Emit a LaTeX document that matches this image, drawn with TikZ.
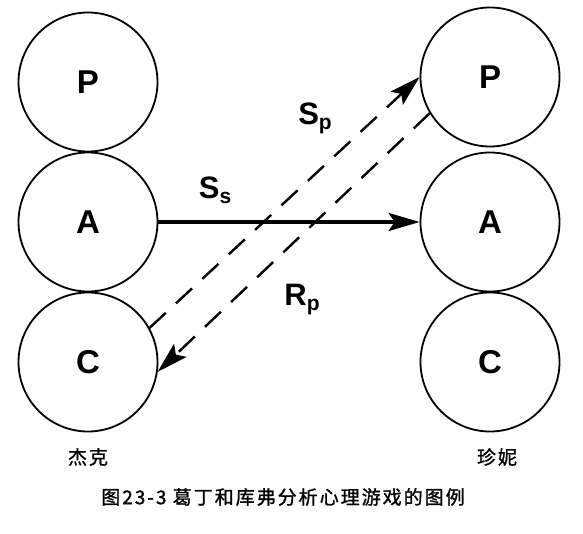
\documentclass[tikz,border=0pt]{standalone}
\usepackage{fontspec}
\setmainfont{Liberation Sans}
\newfontfamily\cjkcap[LetterSpace=10.5,FakeBold=1.2]{Noto Sans CJK SC}
\usetikzlibrary{arrows.meta}
\newcommand\lowsub[1]{\raisebox{-5pt}{\fontsize{21}{21}\selectfont #1}}
\begin{document}
\begin{tikzpicture}[x=1pt,y=-1pt,
  ego/.style={circle,draw,line width=1.8pt,minimum size=139pt,inner sep=0pt,
    font=\fontsize{33}{33}\selectfont\bfseries},
  tx/.style={font=\fontsize{31}{31}\selectfont\bfseries,inner sep=0pt},
  cjklab/.style={font=\fontsize{19}{19}\selectfont\cjkcap,inner sep=0pt},
  tip/.style={-{Stealth[length=31pt,width=18pt,inset=6pt]}},
  solidarrow/.style={tip,line width=3.3pt},
  dasharrow/.style={tip,line width=2.4pt,dash pattern=on 22pt off 14pt}]
\useasboundingbox (0,0) rectangle (583,533);
\node[ego] (lp) at (88,82) {P};
\node[ego] (la) at (88,222) {A};
\node[ego] (lc) at (88,362) {C};
\node[ego] (rp) at (490,77) {P};
\node[ego] (ra) at (490,222) {A};
\node[ego] (rc) at (490,362) {C};
\draw[solidarrow] (la.east) -- (ra.west);
\draw[dasharrow] (lc.29) -- (rp.180);
\draw[dasharrow] (rp.211) -- (lc.-8);
\node[tx] (ss) at (215,190) {S\lowsub{s}};
\node[tx] (sp) at (315,118) {S\lowsub{p}};
\node[tx] (rpl) at (302,300) {R\lowsub{p}};
\node[cjklab] (jack) at (88,457) {杰克};
\node[cjklab] (jenny) at (497,457) {珍妮};
\node[cjklab] (cap) at (283,497) {图23-3 葛丁和库弗分析心理游戏的图例};
\end{tikzpicture}
\end{document}
